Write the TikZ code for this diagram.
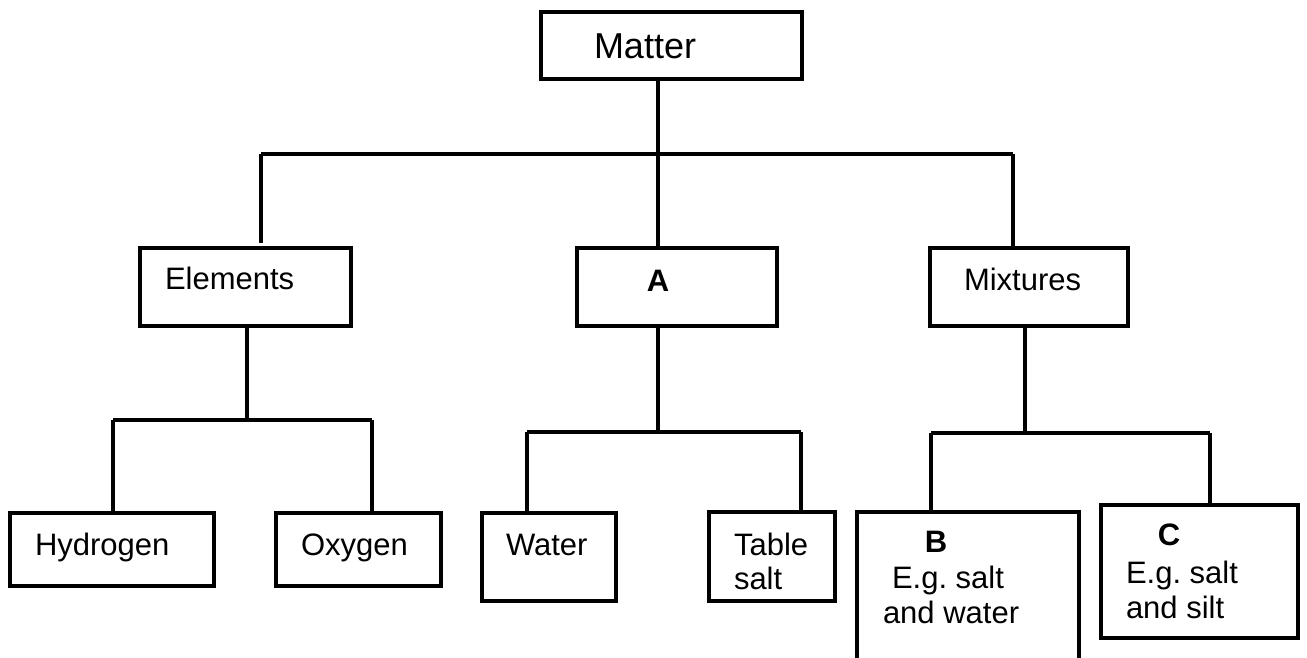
\documentclass[tikz,border=0pt]{standalone}
\usepackage{fontspec}
\setmainfont{Liberation Sans}
\usetikzlibrary{positioning}
\frenchspacing

\begin{document}
\begin{tikzpicture}[x=1pt, y=-1pt, line width=4pt,
    box/.style={rectangle, draw, outer sep=0pt, inner sep=0pt},
    txt/.style={anchor=base west, inner sep=0pt, font=\fontsize{31}{34}\selectfont},
    bold txt/.style={anchor=base, inner sep=0pt, font=\fontsize{31}{34}\selectfont\bfseries}]
    \useasboundingbox (0,0) rectangle (1307,657);
    \clip (0,0) rectangle (1307,657);
    % boxes
    \node[box, minimum width=261pt, minimum height=67pt] (matter) at (671.5,45.5) {};
    \node[box, minimum width=211pt, minimum height=78pt] (elements) at (245.5,287) {};
    \node[box, minimum width=200pt, minimum height=78pt] (a) at (677,287) {};
    \node[box, minimum width=198pt, minimum height=78pt] (mixtures) at (1029,287) {};
    \node[box, minimum width=204pt, minimum height=73pt] (hydrogen) at (112,549.5) {};
    \node[box, minimum width=165pt, minimum height=73pt] (oxygen) at (358.5,549.5) {};
    \node[box, minimum width=134pt, minimum height=88pt] (water) at (549,557) {};
    \node[box, minimum width=126pt, minimum height=89pt] (tablesalt) at (772,556.5) {};
    \node[box, minimum width=222pt, minimum height=190pt] (b) at (968,607) {};
    \node[box, minimum width=197pt, minimum height=133pt] (c) at (1199.5,571.5) {};
    % texts
    \node[txt, font=\fontsize{36}{40}\selectfont] (matter text) at (592,58) {Matter};
    \node[txt] (elements text) at (163,289) {Elements};
    \node[bold txt] (a text) at (658,291) {A};
    \node[txt] (mixtures text) at (962,290) {Mixtures};
    \node[txt] (hydrogen text) at (33,555) {Hydrogen};
    \node[txt] (oxygen text) at (299,555) {Oxygen};
    \node[txt] (water text) at (504,555) {Water};
    \node[txt] (table text) at (732,555) {Table};
    \node[txt] (salt text) at (732,589) {salt};
    \node[bold txt] (b text) at (936,552) {B};
    \node[txt] (b eg) at (890,588) {E.g. salt};
    \node[txt] (b and) at (881,623) {and water};
    \node[bold txt] (c text) at (1169,545) {C};
    \node[txt] (c eg) at (1124,583) {E.g. salt};
    \node[txt] (c and) at (1124,618) {and silt};
    % first level
    \coordinate (el top) at (261,154);
    \coordinate (mx top) at (1013,154);
    \draw (matter.south -| 658,0) -- (a.north -| 658,0);
    \draw (el top) -- (mx top);
    \draw[shorten >=5pt] (el top) -- (el top |- elements.north);
    \draw (mx top) -- (mx top |- mixtures.north);
    % elements
    \coordinate (h top) at (113,420);
    \coordinate (o top) at (372,420);
    \draw (elements.south -| 247,0) -- (247,420);
    \draw (h top) -- (o top);
    \draw (h top) -- (h top |- hydrogen.north);
    \draw (o top) -- (o top |- oxygen.north);
    % A
    \coordinate (w top) at (527,432);
    \coordinate (t top) at (801,432);
    \draw (a.south -| 658,0) -- (658,432);
    \draw (w top) -- (t top);
    \draw (w top) -- (w top |- water.north);
    \draw (t top) -- (t top |- tablesalt.north);
    % mixtures
    \coordinate (b top) at (931,433);
    \coordinate (c top) at (1210,433);
    \draw (mixtures.south -| 1025,0) -- (1025,433);
    \draw (b top) -- (c top);
    \draw (b top) -- (b top |- b.north);
    \draw (c top) -- (c top |- c.north);
\end{tikzpicture}
\end{document}
